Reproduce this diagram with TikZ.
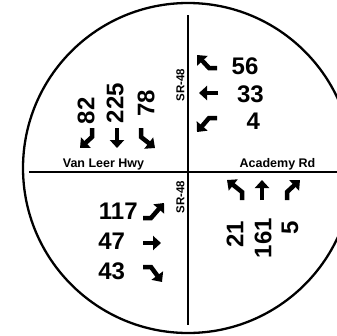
\documentclass[tikz,border=0pt]{standalone}
\usepackage{fontspec}
\setmainfont{Liberation Sans}
\usetikzlibrary{arrows.meta}
\tikzset{
  num/.style={font=\bfseries\fontsize{24}{24}\selectfont, inner sep=0pt},
  road/.style={font=\bfseries\fontsize{12.5}{12.5}\selectfont, inner sep=0pt},
  srlab/.style={font=\bfseries\fontsize{11.5}{11.5}\selectfont, inner sep=0pt, rotate=90},
  mv/.style={line width=4.5pt, line join=miter, -{Triangle[length=8pt,width=14pt]}},
  axis/.style={line width=2pt}
}
\begin{document}
\begin{tikzpicture}[x=1pt,y=-1pt]
\useasboundingbox (0,0) rectangle (337,335);
\begin{scope}
\clip (0,0) rectangle (337,335);
\draw[line width=2.3pt] (188,168) circle [radius=165];
\draw[axis] (29,172) coordinate (wl) -- (337,172) coordinate (er);
\end{scope}
\draw[axis] (188,15) coordinate (nt) -- (188,325) coordinate (sb);

% road labels
\node[road] (vlh) at (103.5,164.5) {Van Leer Hwy};
\node[road] (acr) at (277.5,164.5) {Academy Rd};
\node[srlab] (sr1) at (180.5,85) {SR-48};
\node[srlab] (sr2) at (180.5,197) {SR-48};

% southbound (top-left)
\node[num, rotate=90] (n82) at (86,110.8) {82};
\node[num, rotate=90] (n225) at (115,103) {225};
\node[num, rotate=90] (n78) at (146,103.3) {78};
\draw[mv] (92,128) -- (92,137) -- (80,148);
\draw[mv] (117,128) -- (117,148);
\draw[mv] (141,128) -- (141,137) -- (155,148);

% westbound (top-right)
\node[num] (n56) at (245,66.7) {56};
\node[num] (n33) at (250.5,94) {33};
\node[num] (n4) at (253.3,121.7) {4};
\draw[mv] (217,68) -- (209,68) -- (197,55);
\draw[mv] (218,93) -- (199,93);
\draw[mv] (217,118) -- (209,118) -- (197,132);

% eastbound (bottom-left)
\node[num] (n117) at (118.3,211) {117};
\node[num] (n47) at (111.7,241) {47};
\node[num] (n43) at (111.7,271) {43};
\draw[mv] (143,218) -- (151,218) -- (164,203);
\draw[mv] (143,243) -- (161,243);
\draw[mv] (143,267) -- (151,267) -- (162,282);

% northbound (bottom-right)
\node[num, rotate=90] (n21) at (235,234) {21};
\node[num, rotate=90] (n161) at (263,238.3) {161};
\node[num, rotate=90] (n5) at (290,228) {5};
\draw[mv] (242,200) -- (242,192) -- (227,180);
\draw[mv] (262,200) -- (262,180);
\draw[mv] (287,200) -- (287,192) -- (300,180);
\end{tikzpicture}
\end{document}
